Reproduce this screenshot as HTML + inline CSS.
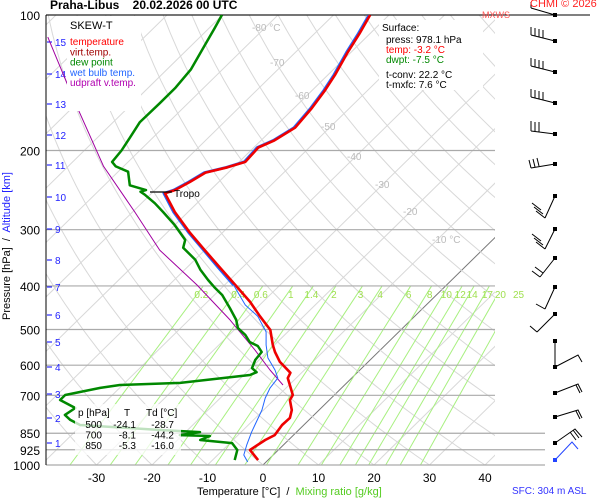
<!DOCTYPE html>
<html><head><meta charset="utf-8"><style>
html,body{margin:0;padding:0;background:#fff;}
svg{display:block;font-family:"Liberation Sans",sans-serif;}
</style></head><body>
<svg id="chart" width="600" height="500" viewBox="0 0 600 500"></svg>
<script>
// ---- data ----
const tempP = [975,926,880,858,815,786,755,717,699,641,624,590,561,541,501,467,434,398,365,333,304,274,249,245,235,224,218,212,197,190,178,161,147,136,121,110,100];
const tempT = [-1.8,-5.1,-4.2,-3.4,-3.9,-3.8,-4.9,-7.1,-7.5,-11.5,-12.0,-15.9,-18.6,-20.3,-23.5,-27.9,-32.3,-38.1,-43.9,-50.0,-56.0,-62.4,-67.6,-66.4,-65.2,-64.1,-61.1,-58.9,-59.2,-57.6,-56.2,-56.8,-57.7,-58.7,-60.6,-61.9,-63.4];
const dewP = [975,926,894,880,862,858,845,836,815,794,774,747,717,699,674,664,657,631,622,609,584,561,544,533,514,496,476,448,419,404,388,368,350,329,316,293,274,262,251,247,245,239,223,217,212,200,188,173,157,145,132,117,107,100];
const dewT = [-6.0,-7.4,-9.6,-15.9,-14.9,-20.5,-17.4,-25.0,-40.3,-43.0,-44.9,-44.3,-48.5,-48.5,-43.5,-40.5,-30.0,-18.9,-18.2,-19.8,-20.7,-21.0,-22.8,-25.0,-27.1,-29.7,-31.5,-34.8,-38.6,-41.2,-43.9,-47.2,-49.9,-54.3,-55.4,-60.0,-64.5,-67.6,-70.9,-72.3,-71.6,-75.4,-78.2,-81.4,-82.9,-83.3,-84.1,-85.2,-85.1,-85.1,-85.7,-87.6,-89.0,-90.1];
const wbP = [985,950,903,845,815,755,710,674,641,615,578,541,506,467,441,398,365,333,304,274,249,245,235,224,218,212,197,190,178,161,147,136,121,110,100];
const wbT = [-3.3,-5.3,-6.6,-8.1,-8.8,-10.3,-11.9,-12.9,-13.3,-15.3,-18.8,-21.5,-23.9,-28.3,-32.6,-38.4,-44.2,-50.2,-56.2,-62.6,-67.8,-66.6,-65.4,-64.3,-61.3,-59.1,-59.4,-57.8,-56.4,-57.0,-57.9,-58.9,-60.8,-62.1,-63.6];
const updP = [664,615,555,476,398,333,274,217,154,112];
const updT = [-11.1,-16.2,-22.6,-32.6,-45.0,-58.1,-69.6,-83.6,-101.3,-117.4];
const pressureTicks = [100,200,300,400,500,600,700,850,925,1000];
const tempTicks = [-30,-20,-10,0,10,20,30,40];
const isoLabels = [-80,-70,-60,-50,-40,-30,-20,-10];
const mixRatios = [0.2,0.4,0.6,1,1.4,2,3,4,6,8,10,12,14,17,20,25];
const kmTicks = [1,2,3,4,5,6,7,8,9,10,11,12,13,14,15];
const kmY = [443,418,394,367,342,315,287,260,229,197,165,135,104,74,42];

// ---- layout ----
const isoLabelPos = [[252,31],[270,66],[295,99],[321,130],[347,160],[375,188],[403,215],[432,243]];
const X0=46, X1=495, Y0=15, Y1=465;
function yP(p){return Y1-450*Math.log10(1000/p);}
function xT(t,p){return 263+5.55*t+1.02*(Y1-yP(p));}
const NS="http://www.w3.org/2000/svg";
const svg=document.getElementById('chart');
function el(tag,attrs,parent){const e=document.createElementNS(NS,tag);for(const k in attrs)e.setAttribute(k,attrs[k]);(parent||svg).appendChild(e);return e;}
function txt(s,attrs,parent){const e=el('text',attrs,parent);e.textContent=s;return e;}

const defs=el('defs',{});
const cp=el('clipPath',{id:'plot'},defs);
el('rect',{x:X0,y:Y0,width:X1-X0,height:Y1-Y0},cp);

const grid=el('g',{'clip-path':'url(#plot)'});


for(let t=-130;t<=40;t+=10){
  const l=el('line',{x1:xT(t,1000),y1:yP(1000),x2:xT(t,100),y2:yP(100),stroke:t===0?'#777':'#d8d8d8','stroke-width':1},grid);
  
  
}
for(let th=-40;th<=200;th+=10){
  let d='';
  for(let p=1000;p>=100;p-=10){const t=(th+273.15)*Math.pow(p/1000,0.286)-273.15;d+=(d?'L':'M')+xT(t,p).toFixed(1)+' '+yP(p).toFixed(1);}
  const a=el('path',{d:d,fill:'none',stroke:'#d8d8d8','stroke-width':1},grid);
  
  
}
function tdFromW(w,p){const e=w*p/(622+w);const l=Math.log(e/6.112);return 243.5*l/(17.67-l);}
mixRatios.forEach(w=>{
  const m=el('line',{x1:xT(tdFromW(w,1000),1000),y1:yP(1000),x2:xT(tdFromW(w,400),400),y2:yP(400),stroke:'#a8f080','stroke-width':1},grid);
  
  
});
pressureTicks.forEach(p=>{
  const x2=p>=850?545:X1;
  const l=el('line',{x1:X0,y1:yP(p),x2:x2,y2:yP(p),stroke:'#aaa','stroke-width':1.2});
  
  
  const t=txt(String(p),{x:40,y:yP(p)+5,'text-anchor':'end','font-size':12,fill:'#000'});
  
  
});
mixRatios.forEach(w=>{
  const t=txt(String(w),{x:xT(tdFromW(w,400),400)-2,y:298,'text-anchor':'middle','font-size':10,fill:'#a0e050'});
  
  
});
isoLabels.forEach((t,i)=>{
  const s=(t===-80||t===-10)?t+' °C':String(t);
  const e=txt(s,{x:isoLabelPos[i][0],y:isoLabelPos[i][1],'font-size':10,fill:'#bbb'});
  
  
});

el('line',{x1:X0,y1:Y0,x2:X0,y2:Y1,stroke:'#000','stroke-width':1});
el('line',{x1:X0,y1:Y0,x2:590,y2:Y0,stroke:'#000','stroke-width':1});

kmTicks.forEach((k,i)=>{
  el('line',{x1:47,y1:kmY[i],x2:52,y2:kmY[i],stroke:'#00f','stroke-width':1});
  const t=txt(String(k),{x:55,y:kmY[i]+4,'font-size':10,fill:'#22f'});
  
  
});

tempTicks.forEach(t=>{
  const e=txt(String(t),{x:263+5.55*t,y:482,'text-anchor':'middle','font-size':12,fill:'#000'});
  
  
});

function series(P,T,color,w,name){
  let d='';P.forEach((p,i)=>{d+=(i?'L':'M')+xT(T[i],p).toFixed(1)+' '+yP(p).toFixed(1);});
  const g=el('path',{d:d,fill:'none',stroke:color,'stroke-width':w,'stroke-linejoin':'round','clip-path':'url(#plot)'});
  
  
}
series(updP,updT,'#a000a0',1,'updraft-line');
series(dewP,dewT,'#008800',2.5,'dewpoint-line');
series(wbP.slice(15),wbT.slice(15),'#2266ff',2.8,'wet-bulb-upper');
series(tempP,tempT,'#ee0000',2.6,'temperature-line');
series(wbP.slice(0,16),wbT.slice(0,16),'#2266ff',1,'wet-bulb-line');

el('line',{x1:150,y1:192,x2:172,y2:192,stroke:'#000','stroke-width':1.2});
const tr=txt('Tropo',{x:174,y:197,'font-size':10,fill:'#000'});



const lg=el('g',{});


el('rect',{x:67,y:16,width:74,height:95,fill:'#fff'},lg);
txt('SKEW-T',{x:70,y:29,'font-size':11,fill:'#000'},lg);
[['temperature','#f00'],['virt.temp.','#a00000'],['dew point','#008800'],['wet bulb temp.','#2266ff'],['udpraft v.temp.','#b000b0']].forEach((e,i)=>{
  const t=txt(e[0],{x:70,y:45+i*10.3,'font-size':10,fill:e[1]},lg);
  
  
});

const sb=el('g',{});


el('rect',{x:379,y:20,width:104,height:70,fill:'#fff'},sb);
txt('Surface:',{x:382,y:31,'font-size':10,fill:'#000'},sb);
txt('press: 978.1 hPa',{x:386,y:43,'font-size':10,fill:'#000'},sb);
txt('temp: -3.2 °C',{x:386,y:53,'font-size':10,fill:'#f00'},sb);
txt('dwpt: -7.5 °C',{x:386,y:63,'font-size':10,fill:'#008800'},sb);
txt('t-conv: 22.2 °C',{x:386,y:78,'font-size':10,fill:'#000'},sb);
txt('t-mxfc: 7.6 °C',{x:386,y:88,'font-size':10,fill:'#000'},sb);

const tb=el('g',{});


el('rect',{x:75,y:404,width:106,height:51,fill:'#fff','fill-opacity':0.75},tb);
txt('p [hPa]',{x:78,y:416,'font-size':10,fill:'#000'},tb);
txt('T',{x:124,y:416,'font-size':10,fill:'#000'},tb);
txt('Td [°C]',{x:146,y:416,'font-size':10,fill:'#000'},tb);
[['500','-24.1','-28.7'],['700','-8.1','-44.2'],['850','-5.3','-16.0']].forEach((r,i)=>{
  const y=428+i*10.5;
  txt(r[0],{x:102,y:y,'text-anchor':'end','font-size':10,fill:'#000'},tb);
  txt(r[1],{x:136,y:y,'text-anchor':'end','font-size':10,fill:'#000'},tb);
  txt(r[2],{x:174,y:y,'text-anchor':'end','font-size':10,fill:'#000'},tb);
});

const barbs=[
 'M555 15 L531 8 M531 8 L531 2',
 'M555 41 L531 35 M531 35 L531 27 M535 36 L535 28 M539 37 L539 29 M543 38 L543 30',
 'M555 72 L531 66 M531 66 L531 58 M535 67 L535 59 M539 68 L539 60 M543 69 L543 61',
 'M555 103 L531 97 M531 97 L531 89 M535 98 L535 90 M539 99 L539 91 M543 100 L543 92',
 'M555 134 L531 131 M531 131 L531 121 M535 132 L535 122 M539 132 L539 122',
 'M555 164 L531 168 M531 168 L529 160 M535 167 L533 159 M539 166 L537 158',
 'M555 196 L545 218 M545 218 L536 211 M543 214 L534 207 M541 210 L532 203',
 'M555 229 L545 249 M545 249 L536 242 M543 245 L534 238 M541 241 L532 234',
 'M555 258 L540 277 M540 277 L532 271 M543 273 L535 267',
 'M555 287 L545 309 M545 309 L536 304',
 'M555 314 L537 332 M537 332 L530 326',
 'M555 341 L555 367 M555 367 L578 355 L582 362',
 'M555 393 L578 384 L582 392 M576 385 L580 393',
 'M555 417 L578 410 L582 418 M576 411 L580 419',
 'M555 443 L575 429 L582 437 M573 430 L579 438 M570 432 L576 440'
];
barbs.forEach((d,i)=>{
  const b=el('path',{d:d,stroke:'#000','stroke-width':1,fill:'none'});
  
  
});
[15,41,72,103,134,164,196,229,258,287,314,341,367,393,417,443].forEach(y=>el('rect',{x:553,y:y-2,width:4,height:4,fill:'#000'}));
el('path',{d:'M555 460 L572 442 L578 449',stroke:'#2244ff','stroke-width':1,fill:'none'});
el('rect',{x:553,y:458,width:4,height:4,fill:'#2244ff'});
</script>
<div style="position:absolute;left:0;top:0;width:600px;height:500px;pointer-events:none;font-family:'Liberation Sans',sans-serif;">
  <div style="position:absolute;left:50px;top:-2px;font-size:12px;font-weight:bold;white-space:pre;">Praha-Libus    20.02.2026 00 UTC</div>
  <div style="position:absolute;left:482px;top:10px;font-size:9px;color:#f55;">MXWS</div>
  <div style="position:absolute;left:530px;top:-2px;font-size:11px;color:#f22;">CHMI © 2026</div>
  <div style="position:absolute;left:-93px;top:240px;width:200px;text-align:center;transform:rotate(-90deg);font-size:11px;white-space:pre;">Pressure [hPa]  /  <span style="color:#22f">Altitude [km]</span></div>
  <div style="position:absolute;left:197px;top:486px;font-size:11px;white-space:pre;">Temperature [°C]  /  <span style="color:#55cc22">Mixing ratio [g/kg]</span></div>
  <div style="position:absolute;left:512px;top:486px;font-size:10px;color:#33f;">SFC: 304 m ASL</div>
</div>
</body></html>
